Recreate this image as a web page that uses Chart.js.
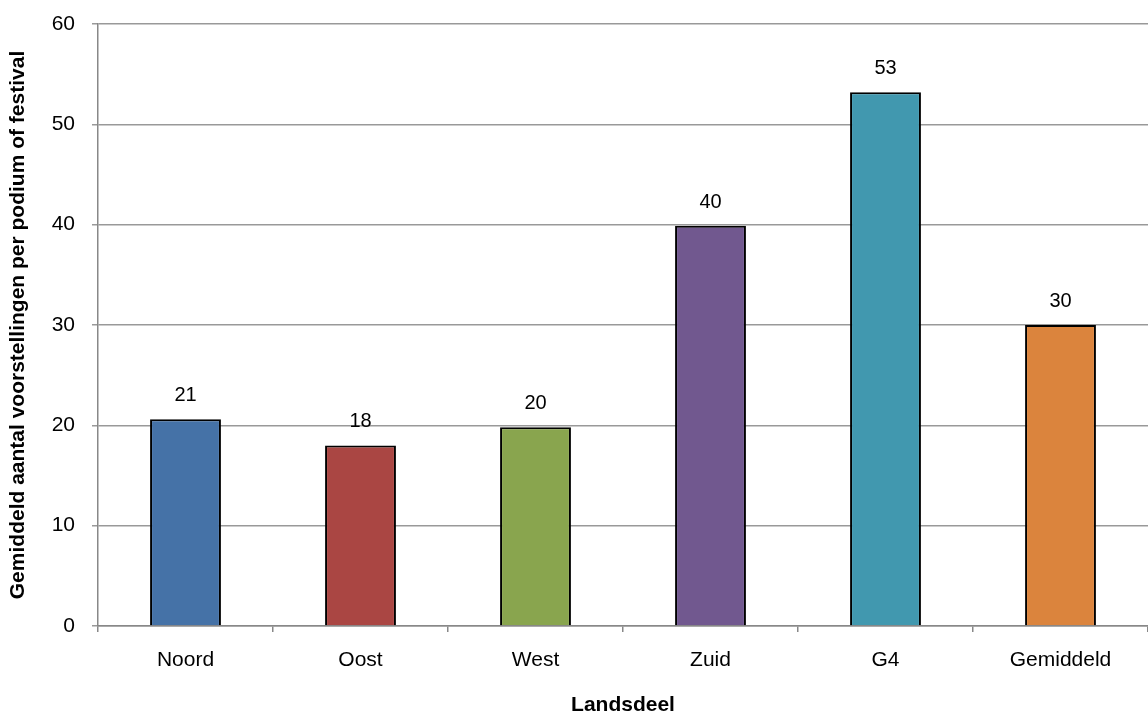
<!DOCTYPE html>
<html>
<head>
  <title>Voorstellingen per landsdeel</title>
  <script src="https://cdn.jsdelivr.net/npm/chart.js@4/dist/chart.umd.min.js"></script>
  <style>
    html, body { margin: 0; padding: 0; background: #fff; }
    #wrap { width: 1148px; height: 718px; }
  </style>
</head>
<body>
<div id="wrap">
  <canvas id="myChart" width="1148" height="718"></canvas>
</div>

<script>
  const categories = ['Noord', 'Oost', 'West', 'Zuid', 'G4', 'Gemiddeld'];
  const values = [20.6, 18.0, 19.8, 39.9, 53.2, 30.0];
  const valueLabels = ['21', '18', '20', '40', '53', '30'];
  const barColors = ['#4572A7', '#AA4643', '#89A54E', '#71588F', '#4198AF', '#DB843D'];
  const yTicks = [0, 10, 20, 30, 40, 50, 60];

  const font = "'Liberation Sans', Arial, Helvetica, sans-serif";

  // value labels above each bar
  const barLabels = {
    id: 'barLabels',
    afterDatasetsDraw(chart) {
      const ctx = chart.ctx;
      const meta = chart.getDatasetMeta(0);
      ctx.save();
      ctx.font = '20px ' + font;
      ctx.fillStyle = '#000';
      ctx.textAlign = 'center';
      ctx.textBaseline = 'alphabetic';
      meta.data.forEach((bar, i) => {
        ctx.fillText(valueLabels[i], bar.x, bar.y - 18);
      });
      ctx.restore();
    }
  };

  new Chart(document.getElementById('myChart').getContext('2d'), {
    type: 'bar',
    data: {
      labels: categories,
      datasets: [{
        data: values,
        backgroundColor: barColors,
        borderColor: '#000',
        borderWidth: 2,
        borderSkipped: 'bottom',
        categoryPercentage: 1,
        barPercentage: 0.405
      }]
    },
    options: {
      responsive: false,
      animation: false,
      layout: { padding: { top: 24, right: 0, left: 0, bottom: 0 } },
      plugins: {
        legend: { display: false },
        tooltip: { enabled: false }
      },
      scales: {
        x: {
          grid: {
            display: true,
            drawOnChartArea: false,
            color: '#888',
            lineWidth: 1.5,
            tickLength: 6
          },
          border: { color: '#888', width: 1.5 },
          ticks: { color: '#000', font: { family: font, size: 21 }, padding: 16 },
          title: {
            display: true,
            text: 'Landsdeel',
            color: '#000',
            font: { family: font, size: 21, weight: 'bold' },
            padding: { top: 8, bottom: 0 }
          },
          afterFit(scale) { scale.height = 92; }
        },
        y: {
          min: 0,
          max: 60,
          afterBuildTicks(scale) { scale.ticks = yTicks.map(v => ({ value: v })); },
          grid: {
            color: '#999',
            lineWidth: 1.5,
            tickLength: 6
          },
          border: { color: '#888', width: 1.5 },
          ticks: { color: '#000', font: { family: font, size: 21 }, padding: 17 },
          title: {
            display: true,
            text: 'Gemiddeld aantal voorstellingen per podium of festival',
            color: '#000',
            font: { family: font, size: 21, weight: 'bold' },
            padding: { top: 6, bottom: 0 }
          },
          afterFit(scale) {
            scale.width = 98;
            scale.paddingTop = 0;
            scale.paddingBottom = 0;
          }
        }
      }
    },
    plugins: [barLabels]
  });
</script>
</body>
</html>
